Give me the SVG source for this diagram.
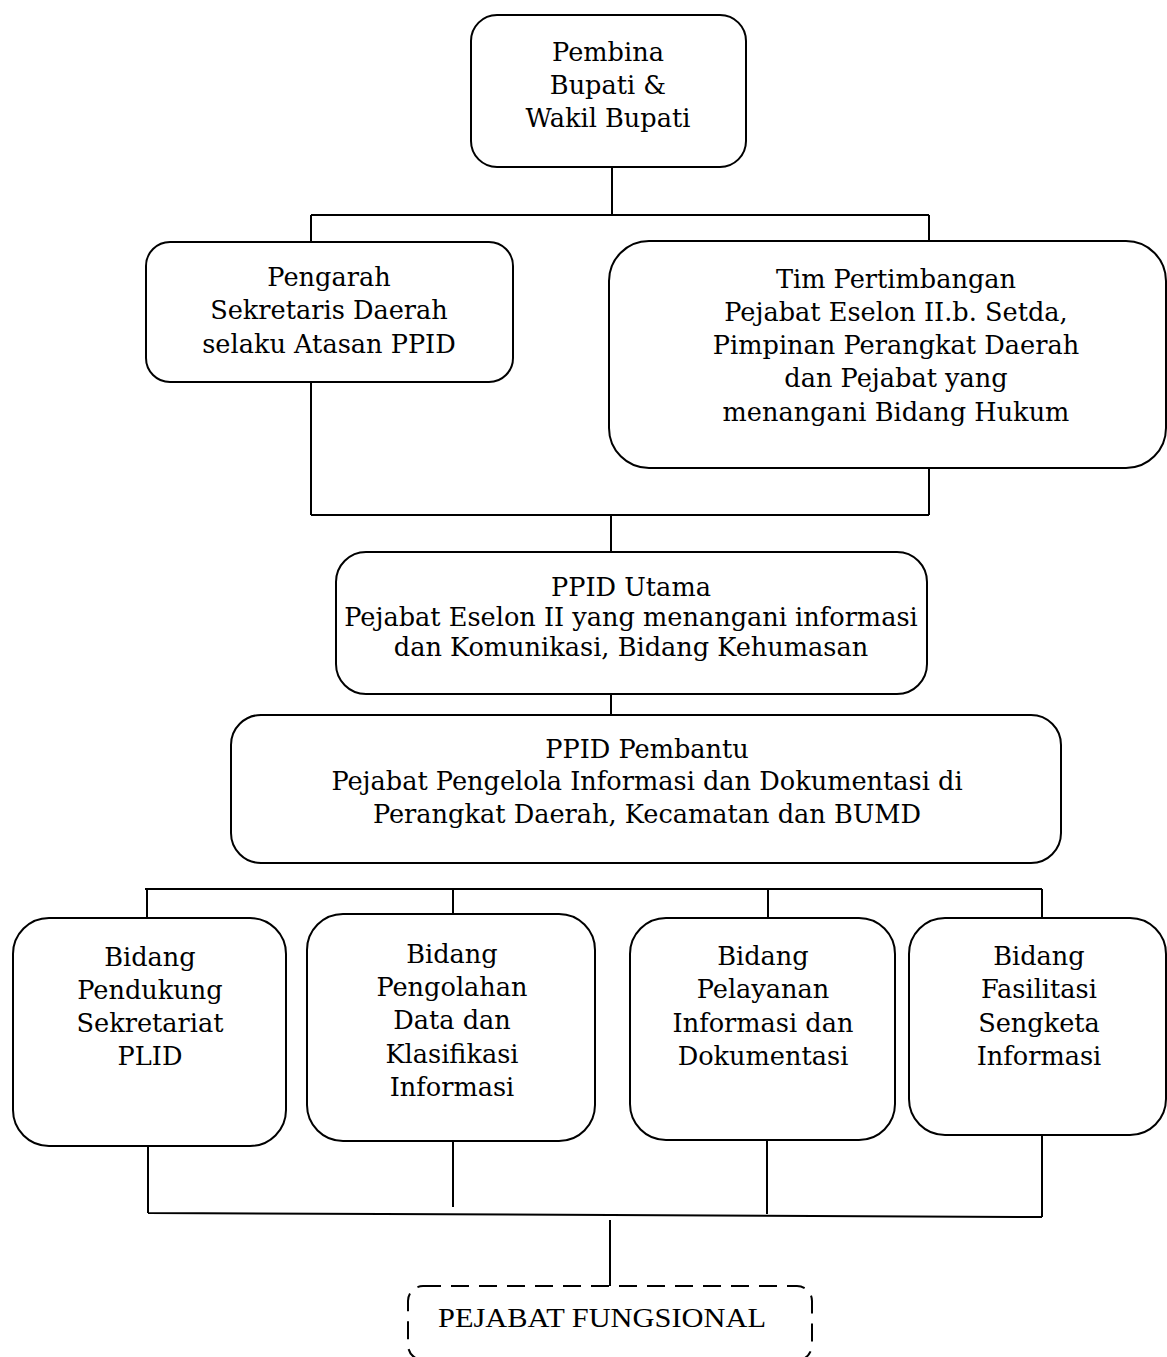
<svg xmlns="http://www.w3.org/2000/svg" width="1167" height="1357" viewBox="0 0 1167 1357">
<style>
.box{fill:#fff;stroke:#000;stroke-width:2}
.dash{fill:#fff;stroke:#000;stroke-width:2;stroke-dasharray:18 10}
.ln{fill:none;stroke:#000;stroke-width:2}
text{font-family:"DejaVu Serif","Liberation Serif",serif;font-size:25.6px;fill:#000;text-anchor:middle}
.sm{font-size:25.6px}
.tnr{font-family:"Liberation Serif",serif;font-size:28px}
</style>
<rect width="1167" height="1357" fill="#fff"/>
<g id="connectors">
<path class="ln" d="M612,167V215M311,215H929M311,215V242M929,215V241"/>
<path class="ln" d="M311,382V515M929,468V515M311,515H929M611,515V552"/>
<path class="ln" d="M611,694V715"/>
<path class="ln" d="M145,889H1042M147,889V918M453,889V914M768,889V918M1042,889V918"/>
<path class="ln" d="M148,1146V1213M453,1141V1207M767,1140V1214M1042,1135V1217M148,1213L1042,1217"/>
<path class="ln" d="M610,1220V1286"/>
</g>
<g id="pembina">
<rect class="box" x="471" y="15" width="275" height="152" rx="26"/>
<text x="608" y="61">Pembina</text>
<text x="608" y="94">Bupati &amp;</text>
<text x="608" y="127">Wakil Bupati</text>
</g>
<g id="pengarah">
<rect class="box" x="146" y="242" width="367" height="140" rx="24"/>
<text x="329" y="286">Pengarah</text>
<text x="329" y="319">Sekretaris Daerah</text>
<text x="329" y="353">selaku Atasan PPID</text>
</g>
<g id="tim">
<rect class="box" x="609" y="241" width="557" height="227" rx="40"/>
<text x="896" y="288">Tim Pertimbangan</text>
<text x="896" y="321">Pejabat Eselon II.b. Setda,</text>
<text x="896" y="354">Pimpinan Perangkat Daerah</text>
<text x="896" y="387">dan Pejabat yang</text>
<text x="896" y="421">menangani Bidang Hukum</text>
</g>
<g id="ppid-utama">
<rect class="box" x="336" y="552" width="591" height="142" rx="30"/>
<text class="sm" x="631" y="596">PPID Utama</text>
<text class="sm" x="631" y="626">Pejabat Eselon II yang menangani informasi</text>
<text class="sm" x="631" y="656">dan Komunikasi, Bidang Kehumasan</text>
</g>
<g id="ppid-pembantu">
<rect class="box" x="231" y="715" width="830" height="148" rx="30"/>
<text class="sm" x="647" y="758">PPID Pembantu</text>
<text class="sm" x="647" y="790">Pejabat Pengelola Informasi dan Dokumentasi di</text>
<text class="sm" x="647" y="823">Perangkat Daerah, Kecamatan dan BUMD</text>
</g>
<g id="bidang-1">
<rect class="box" x="13" y="918" width="273" height="228" rx="36"/>
<text x="150" y="966">Bidang</text>
<text x="150" y="999">Pendukung</text>
<text x="150" y="1032">Sekretariat</text>
<text x="150" y="1065">PLID</text>
</g>
<g id="bidang-2">
<rect class="box" x="307" y="914" width="288" height="227" rx="36"/>
<text x="452" y="963">Bidang</text>
<text x="452" y="996">Pengolahan</text>
<text x="452" y="1029">Data dan</text>
<text x="452" y="1063">Klasifikasi</text>
<text x="452" y="1096">Informasi</text>
</g>
<g id="bidang-3">
<rect class="box" x="630" y="918" width="265" height="222" rx="36"/>
<text x="763" y="965">Bidang</text>
<text x="763" y="998">Pelayanan</text>
<text x="763" y="1032">Informasi dan</text>
<text x="763" y="1065">Dokumentasi</text>
</g>
<g id="bidang-4">
<rect class="box" x="909" y="918" width="257" height="217" rx="36"/>
<text x="1039" y="965">Bidang</text>
<text x="1039" y="998">Fasilitasi</text>
<text x="1039" y="1032">Sengketa</text>
<text x="1039" y="1065">Informasi</text>
</g>
<g id="pejabat-fungsional">
<rect class="dash" x="408" y="1286" width="404" height="74" rx="15"/>
<text class="tnr" x="602" y="1327" textLength="328" lengthAdjust="spacingAndGlyphs">PEJABAT FUNGSIONAL</text>
</g>
</svg>
